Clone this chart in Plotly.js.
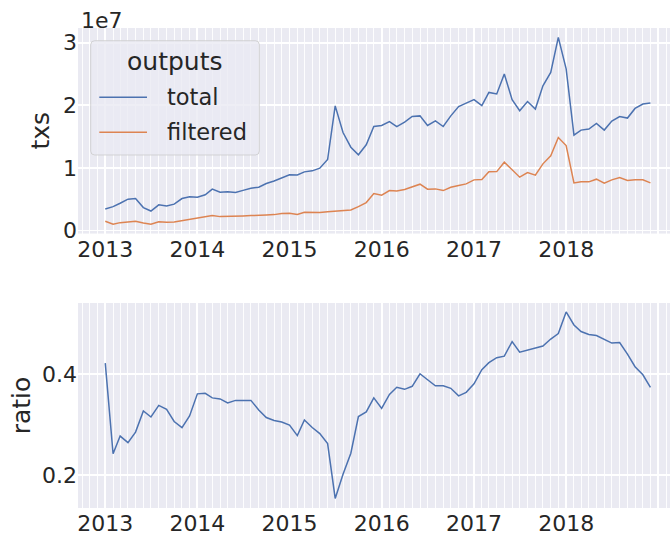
<!DOCTYPE html>
<html>
<head>
<meta charset="utf-8">
<script src="https://cdn.plot.ly/plotly-3.0.1.min.js"></script>
<style>html,body{margin:0;padding:0;background:#fff;}</style>
</head>
<body>
<div id="chart" style="width:670px;height:536px;"></div>
<script>
// Monthly series, Jan 2013 .. Dec 2018 (72 months)
const firstYear = 2013;
const monthCount = 72;
// outputs in units of 1e7
const total = [0.344,0.38,0.435,0.50,0.51,0.365,0.31,0.41,0.39,0.42,0.51,0.54,
  0.53,0.57,0.66,0.61,0.62,0.605,0.64,0.675,0.69,0.75,0.79,0.835,
  0.89,0.885,0.936,0.952,0.995,1.133,1.99,1.565,1.33,1.208,1.368,1.66,
  1.677,1.74,1.66,1.73,1.82,1.83,1.677,1.75,1.66,1.83,1.98,2.035,
  2.09,1.995,2.205,2.18,2.5,2.088,1.912,2.06,1.94,2.31,2.525,3.085,
  2.58,1.523,1.603,1.619,1.709,1.603,1.747,1.82,1.795,1.949,2.019,2.035];
const filtered = [0.147,0.099,0.125,0.14,0.147,0.12,0.099,0.14,0.13,0.135,0.157,0.18,
  0.2,0.216,0.237,0.221,0.221,0.221,0.232,0.237,0.237,0.248,0.253,0.27,
  0.275,0.256,0.29,0.285,0.285,0.30,0.31,0.317,0.328,0.38,0.445,0.59,
  0.563,0.637,0.632,0.653,0.696,0.739,0.659,0.664,0.637,0.69,0.717,0.744,
  0.808,0.815,0.938,0.94,1.091,0.968,0.851,0.925,0.883,1.064,1.192,1.485,
  1.357,0.76,0.776,0.776,0.819,0.755,0.808,0.845,0.797,0.808,0.808,0.76];
const ratio = [0.422,0.242,0.277,0.264,0.285,0.327,0.315,0.338,0.330,0.306,0.294,0.317,
  0.361,0.362,0.353,0.351,0.343,0.348,0.348,0.348,0.329,0.314,0.308,0.305,
  0.299,0.278,0.309,0.294,0.282,0.262,0.153,0.201,0.243,0.316,0.325,0.353,
  0.332,0.36,0.374,0.370,0.376,0.401,0.389,0.377,0.377,0.372,0.357,0.364,
  0.381,0.409,0.423,0.433,0.436,0.465,0.444,0.448,0.452,0.456,0.470,0.481,
  0.524,0.498,0.485,0.479,0.477,0.470,0.462,0.463,0.440,0.415,0.399,0.374];
const seriesNames = ['total','filtered'];
const legendTitle = 'outputs';
const txsTickVals = [0,1,2,3];
const txsTickText = ['0','1','2','3'];
const ratioTickVals = [0.2,0.4];
const ratioTickText = ['0.2','0.4'];

const months = [];
for (let i = 0; i < monthCount; i++) {
  const y = firstYear + Math.floor(i / 12);
  const m = (i % 12) + 1;
  months.push(y + '-' + String(m).padStart(2,'0') + '-01');
}

const blue = '#4c72b0', orange = '#dd8452', ink = '#262626';
const colors = [blue, orange];
const traces = [
  {x: months, y: total, name: seriesNames[0], type:'scatter', mode:'lines',
   line:{color:blue, width:1.5}, xaxis:'x', yaxis:'y'},
  {x: months, y: filtered, name: seriesNames[1], type:'scatter', mode:'lines',
   line:{color:orange, width:1.5}, xaxis:'x', yaxis:'y'},
  {x: months, y: ratio, name:'ratio', type:'scatter', mode:'lines',
   line:{color:blue, width:1.5}, xaxis:'x2', yaxis:'y2'}
];

const W = 670, H = 536, ML = 78, MR = 0, MT = 28, MB = 28;
const PW = W - ML - MR, PH = H - MT - MB;
const px = v => (v - ML) / PW;          // pixel x -> paper
const py = v => (H - MB - v) / PH;      // pixel y -> paper

const xRange = ['2012-09-15', '2019-02-16 12:00'];
function xAxis(anchor) {
  return {
    anchor: anchor, type:'date', range: xRange,
    tickmode:'linear', tick0:'2013-01-01', dtick:'M12', tickformat:'%Y',
    showgrid:true, gridcolor:'#ffffff', gridwidth:1.8,
    minor:{tickmode:'linear', tick0:'2013-01-01', dtick:'M1', showgrid:true, gridcolor:'#ffffff', gridwidth:0.9},
    zeroline:false, showline:false, ticks:'', tickfont:{size:22, color:ink},
    fixedrange:true
  };
}

// legend frame (rounded rectangle) drawn in paper coordinates
const bx0 = px(90.7), bx1 = px(259.3), by0 = py(155), by1 = py(40.7);
const rx = 4 / PW, ry = 4 / PH;
const framePath = `M${bx0+rx},${by1} L${bx1-rx},${by1} Q${bx1},${by1} ${bx1},${by1-ry} ` +
  `L${bx1},${by0+ry} Q${bx1},${by0} ${bx1-rx},${by0} L${bx0+rx},${by0} Q${bx0},${by0} ${bx0},${by0+ry} ` +
  `L${bx0},${by1-ry} Q${bx0},${by1} ${bx0+rx},${by1} Z`;
const itemY = [97.3, 132.3];
const shapes = [
  {type:'path', xref:'paper', yref:'paper', path: framePath,
   fillcolor:'rgba(234,234,242,0.8)', line:{color:'rgba(204,204,204,0.8)', width:1}}
];
const annotations = [
  {text:'1e7', xref:'paper', yref:'paper', x:0, y:1, xanchor:'left', yanchor:'bottom',
   yshift:-7, xshift:1, showarrow:false, font:{size:22, color:ink}},
  {text:legendTitle, xref:'paper', yref:'paper', x:px(174.3), y:py(62), xanchor:'center', yanchor:'middle',
   showarrow:false, font:{size:25, color:ink}}
];
seriesNames.forEach((n, i) => {
  shapes.push({type:'line', xref:'paper', yref:'paper', x0:px(99.3), x1:px(147), y0:py(itemY[i]), y1:py(itemY[i]),
    line:{color:colors[i], width:1.5}});
  annotations.push({text:n, xref:'paper', yref:'paper', x:px(165), y:py(itemY[i]), xanchor:'left', yanchor:'middle',
    showarrow:false, font:{size:22.5, color:ink}});
});

const layout = {
  width:W, height:H,
  margin:{l:ML, r:MR, t:MT, b:MB},
  paper_bgcolor:'#ffffff', plot_bgcolor:'#eaeaf2',
  font:{family:'DejaVu Sans', color:ink, size:22},
  showlegend:false,
  xaxis: xAxis('y'),
  xaxis2: xAxis('y2'),
  yaxis: {domain:[0.5717,1], anchor:'x', range:[-0.05,3.234],
    tickmode:'array', tickvals:txsTickVals, ticktext:txsTickText,
    showgrid:true, gridcolor:'#ffffff', gridwidth:1.8, zeroline:false, showline:false,
    ticks:'', tickfont:{size:22, color:ink},
    title:{text:'txs', font:{size:25, color:ink}, standoff:6}},
  yaxis2: {domain:[0,0.4271], anchor:'x2', range:[0.134,0.5417],
    tickmode:'array', tickvals:ratioTickVals, ticktext:ratioTickText,
    showgrid:true, gridcolor:'#ffffff', gridwidth:1.8, zeroline:false, showline:false,
    ticks:'', tickfont:{size:22, color:ink},
    title:{text:'ratio', font:{size:25, color:ink}, standoff:4}},
  shapes: shapes,
  annotations: annotations
};
Plotly.newPlot('chart', traces, layout, {displayModeBar:false, staticPlot:true});
</script>
</body>
</html>
